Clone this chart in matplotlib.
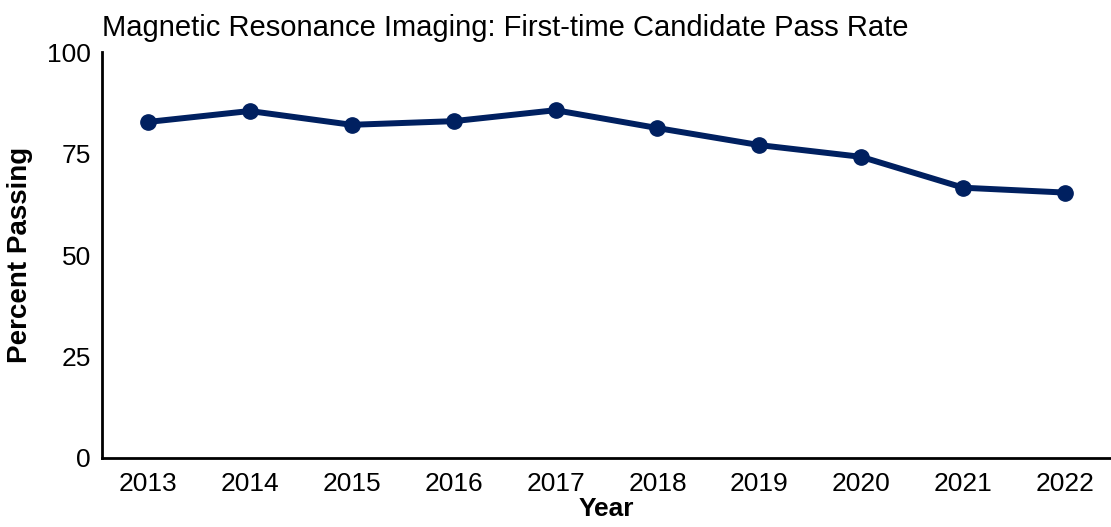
import matplotlib
matplotlib.use("Agg")
import matplotlib.pyplot as plt

years = ["2013", "2014", "2015", "2016", "2017", "2018", "2019", "2020", "2021", "2022"]
pass_rate = [82.8, 85.5, 82.1, 83.0, 85.7, 81.3, 77.1, 74.2, 66.6, 65.4]
yticks = [0, 25, 50, 75, 100]

plt.rcParams['font.family'] = ['Liberation Sans', 'DejaVu Sans']

fig = plt.figure(figsize=(11.11, 5.27), dpi=100)
ax = fig.add_axes([0.0918, 0.131, 0.9082, 0.770])

x = list(range(len(years)))
ax.plot(x, pass_rate, color='#002060', linewidth=4.3, marker='o', markersize=11,
        solid_capstyle='round', solid_joinstyle='round')

ax.set_xlim(-0.45, len(years) - 0.55)
ax.set_ylim(0, 100)
ax.set_xticks(x)
ax.set_xticklabels(years)
ax.set_yticks(yticks)
ax.tick_params(axis='both', length=0, labelsize=19, pad=8)
ax.tick_params(axis='x', pad=10)

for s in ['top', 'right']:
    ax.spines[s].set_visible(False)
for s in ['left', 'bottom']:
    ax.spines[s].set_linewidth(2)
    ax.spines[s].set_color('black')

ax.set_xlabel('Year', fontsize=19, fontweight='bold', labelpad=1)
ax.set_ylabel('Percent Passing', fontsize=20, fontweight='bold', labelpad=10)
ax.set_title('Magnetic Resonance Imaging: First-time Candidate Pass Rate',
             fontsize=21, loc='left', pad=12)

fig.savefig('out.png', dpi=100)
